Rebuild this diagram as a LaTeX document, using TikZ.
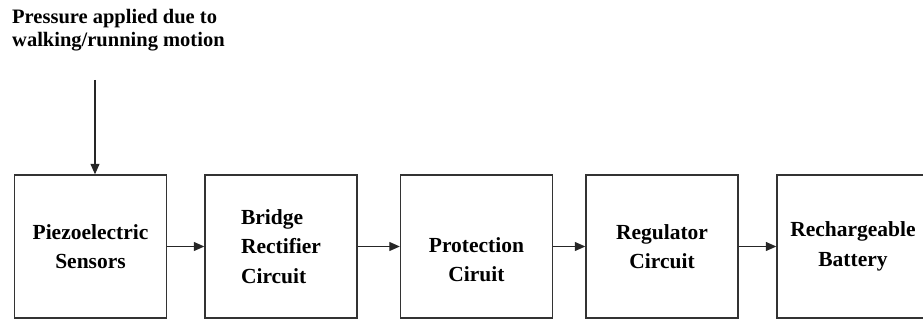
\documentclass[tikz,border=0pt]{standalone}
\usepackage{fontspec}
\setmainfont{Liberation Serif}
\usetikzlibrary{arrows.meta}

\begin{document}
\begin{tikzpicture}[x=1pt,y=1pt,
        blk/.style={draw=black!80,line width=1.4pt,minimum width=152pt,minimum height=143pt,
            inner sep=0pt,font=\fontsize{21.5}{29.5}\selectfont\bfseries},
        flow/.style={draw=black!85,line width=1.2pt,-{Triangle[length=10.5pt,width=9pt]}}]
        \useasboundingbox (0,0) rectangle (923,320);
        \node[anchor=north west,inner sep=0pt,align=left,font=\fontsize{20.5}{23.5}\selectfont\bfseries]
            (press) at (12,311) {Pressure applied due to\\walking/running motion};
        \foreach \n/\x/\al/\txt in {b1/90.5/center/{Piezoelectric\\Sensors},
                                    b2/281/left/{Bridge\\Rectifier\\Circuit},
                                    b3/476.5/center/{\\[12pt]Protection\\Ciruit},
                                    b4/662/center/{Regulator\\Circuit},
                                    b5/853/center/{Rechargeable\\Battery}}
            \node[blk,align=\al] (\n) at (\x,73.5) {\txt};
        \coordinate (push) at (95,240);
        \draw[flow] (push) -- (push |- b1.north);
        \foreach \a/\b in {b1/b2,b2/b3,b3/b4,b4/b5}
            \draw[flow] (\a.east) -- (\b.west);
    \end{tikzpicture}
\end{document}
